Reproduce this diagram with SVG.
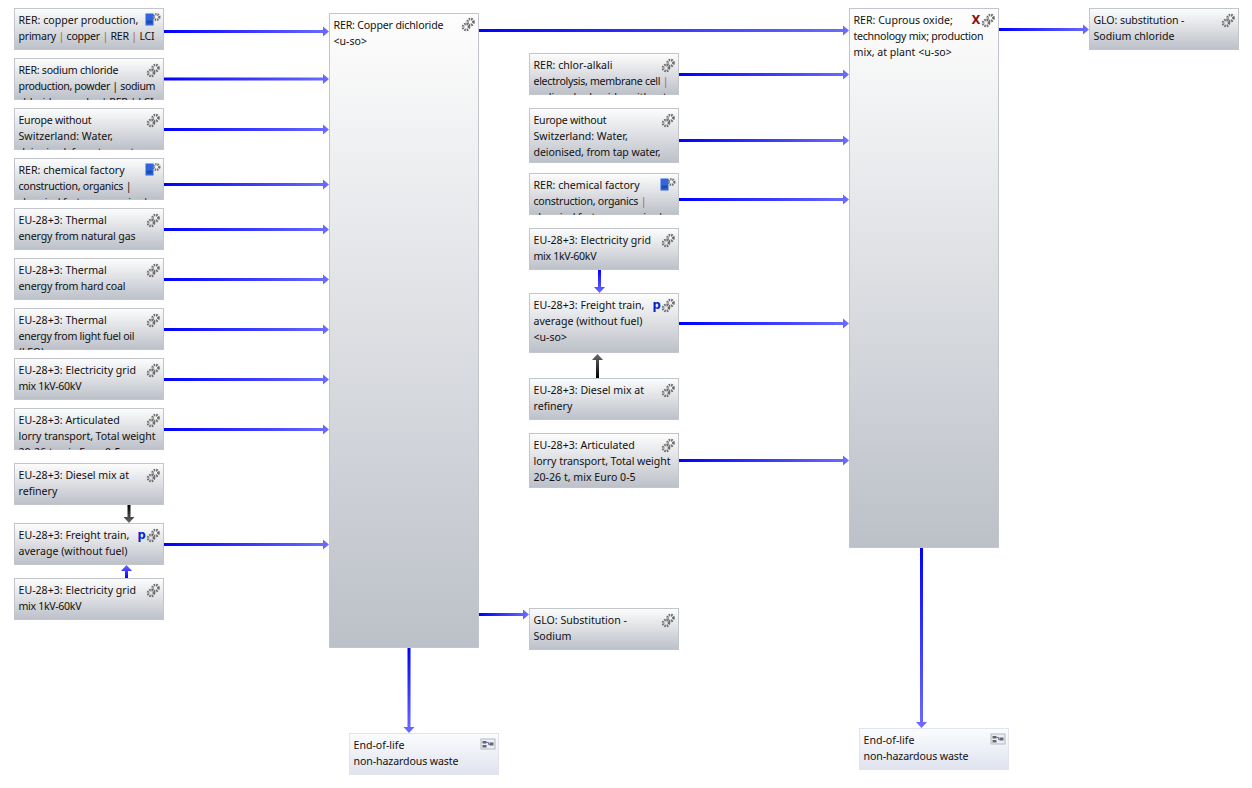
<svg xmlns="http://www.w3.org/2000/svg" width="1252" height="788" viewBox="0 0 1252 788">
<style>
text{font-family:"Noto Sans","DejaVu Sans",sans-serif;font-size:10.6px;fill:#111}
.n{fill:url(#nf);stroke:#c2c5cc;stroke-width:1}
.e{fill:url(#ef);stroke:#e2e3ec;stroke-width:1}
.o{fill:#a8692c}
.h{fill:url(#gh)}
.d{fill:url(#gd)}
.u{fill:url(#gu)}
.kd{fill:url(#kd)}
.ku{fill:url(#ku)}
.p{font-family:"DejaVu Sans",sans-serif;font-weight:bold;font-size:11.500px;fill:#0a1fd0}
.x{font-family:"DejaVu Sans",sans-serif;font-weight:bold;font-size:11.500px;fill:#8a1010}
</style>
<defs>
<linearGradient id="nf" x1="0" y1="0" x2="0" y2="1"><stop offset="0" stop-color="#fdfdfd"/><stop offset="1" stop-color="#bcc0c8"/></linearGradient>
<linearGradient id="ef" x1="0" y1="0" x2="0" y2="1"><stop offset="0" stop-color="#fbfcfe"/><stop offset="1" stop-color="#dfe3ee"/></linearGradient>
<linearGradient id="gh" x1="0" y1="0" x2="1" y2="0"><stop offset="0" stop-color="#0000ff"/><stop offset="1" stop-color="#6c6cff"/></linearGradient>
<linearGradient id="gd" x1="0" y1="0" x2="0" y2="1"><stop offset="0" stop-color="#0000ff"/><stop offset="1" stop-color="#6c6cff"/></linearGradient>
<linearGradient id="gu" x1="0" y1="1" x2="0" y2="0"><stop offset="0" stop-color="#0000ff"/><stop offset="1" stop-color="#6c6cff"/></linearGradient>
<linearGradient id="kd" x1="0" y1="0" x2="0" y2="1"><stop offset="0" stop-color="#000"/><stop offset="1" stop-color="#6a6a6a"/></linearGradient>
<linearGradient id="ku" x1="0" y1="1" x2="0" y2="0"><stop offset="0" stop-color="#000"/><stop offset="1" stop-color="#6a6a6a"/></linearGradient>
<clipPath id="c42"><rect x="0" y="0" width="150" height="41.500"/></clipPath>
<g id="gear" fill="none" stroke="#6e6e6e">
<circle cx="9" cy="4.500" r="3" stroke-width="2.600" stroke-dasharray="1.500 0.900"/>
<circle cx="4.500" cy="9.500" r="3" stroke-width="2.600" stroke-dasharray="1.500 0.900"/>
</g>
<g id="lib"><rect x="0" y="0" width="8" height="12" fill="#2f66e0"/><rect x="1" y="7" width="6" height="3" fill="#1f4aa8"/><circle cx="11" cy="3.500" r="2.800" fill="none" stroke="#6e6e6e" stroke-width="2.400" stroke-dasharray="1.400 0.900"/></g>
<g id="plan"><rect x="0.500" y="0.500" width="14" height="10" fill="#eceef2" stroke="#b5b8c0"/><rect x="2" y="2.500" width="4" height="2.500" fill="#666"/><rect x="2" y="6.500" width="4" height="2.500" fill="#666"/><rect x="9" y="4" width="4" height="3" fill="#666"/><path d="M6 4H8V6H9" fill="none" stroke="#5a6bd0"/></g>
</defs>

<g id="connectors">
<path class="h" d="M164 30H323V26.500L329 31.500L323 36.500V33H164Z"/>
<path class="h" d="M164 77.500H323V74L329 79L323 84V80.500H164Z"/>
<path class="h" d="M164 128H323V124.500L329 129.500L323 134.500V131H164Z"/>
<path class="h" d="M164 183H323V179.500L329 184.500L323 189.500V186H164Z"/>
<path class="h" d="M164 228H323V224.500L329 229.500L323 234.500V231H164Z"/>
<path class="h" d="M164 278H323V274.500L329 279.500L323 284.500V281H164Z"/>
<path class="h" d="M164 328H323V324.500L329 329.500L323 334.500V331H164Z"/>
<path class="h" d="M164 378H323V374.500L329 379.500L323 384.500V381H164Z"/>
<path class="h" d="M164 428H323V424.500L329 429.500L323 434.500V431H164Z"/>
<path class="h" d="M164 543H323V539.500L329 544.500L323 549.500V546H164Z"/>
<path class="kd" d="M127.500 505H130.500V517H134.500L129 523L123.500 517H127.500Z"/>
<path class="u" d="M125 578H128V571H132L126.500 565L121 571H125Z"/>
<path class="h" d="M479 29H843V25.500L849 30.500L843 35.500V32H479Z"/>
<path class="h" d="M679 73H843V69.500L849 74.500L843 79.500V76H679Z"/>
<path class="h" d="M679 139H843V135.500L849 140.500L843 145.500V142H679Z"/>
<path class="h" d="M679 198H843V194.500L849 199.500L843 204.500V201H679Z"/>
<path class="h" d="M679 322H843V318.500L849 323.500L843 328.500V325H679Z"/>
<path class="h" d="M679 459H843V455.500L849 460.500L843 465.500V462H679Z"/>
<path class="d" d="M598 270H601V287H605L599.500 293L594 287H598Z"/>
<path class="ku" d="M596 378H599V360H603L597.500 354L592 360H596Z"/>
<path class="h" d="M479 613H523V609.500L529 614.500L523 619.500V616H479Z"/>
<path class="h" d="M999 28H1083V24.500L1089 29.500L1083 34.500V31H999Z"/>
<path class="d" d="M407.500 648H410.500V727H414.500L409 733L403.500 727H407.500Z"/>
<path class="d" d="M920 548H923V722H927L921.500 728L916 722H920Z"/>
</g>

<g id="n1" transform="translate(14.500 8.500)"><rect class="n" width="149" height="41"/><use href="#lib" x="131" y="5"/><text x="4" y="15.500">RER: copper production,</text><text x="4" y="31.500" textLength="136">primary <tspan class="o">|</tspan> copper <tspan class="o">|</tspan> RER <tspan class="o">|</tspan> LCI</text></g>
<g id="n2" transform="translate(14.500 58.500)"><rect class="n" width="149" height="41"/><use href="#gear" x="132" y="5"/><g clip-path="url(#c42)"><text x="4" y="15.500" textLength="100">RER: sodium chloride</text><text x="4" y="31.500" textLength="137">production, powder | sodium</text><text x="4" y="47.500" textLength="135">chloride, powder | RER | LCI</text></g></g>
<g id="n3" transform="translate(14.500 108.500)"><rect class="n" width="149" height="41"/><use href="#gear" x="132" y="5"/><g clip-path="url(#c42)"><text x="4" y="15.500" textLength="73">Europe without</text><text x="4" y="31.500">Switzerland: Water,</text><text x="4" y="47.500" textLength="127">deionised, from tap water,</text></g></g>
<g id="n4" transform="translate(14.500 158.500)"><rect class="n" width="149" height="41"/><use href="#lib" x="131" y="5"/><g clip-path="url(#c42)"><text x="4" y="15.500">RER: chemical factory</text><text x="4" y="31.500" textLength="113">construction, organics |</text><text x="4" y="47.500" textLength="130">chemical factory, organics |</text></g></g>
<g id="n5" transform="translate(14.500 208.500)"><rect class="n" width="149" height="41"/><use href="#gear" x="132" y="5"/><text x="4" y="15.500">EU-28+3: Thermal</text><text x="4" y="31.500" textLength="117">energy from natural gas</text></g>
<g id="n6" transform="translate(14.500 258.500)"><rect class="n" width="149" height="41"/><use href="#gear" x="132" y="5"/><text x="4" y="15.500">EU-28+3: Thermal</text><text x="4" y="31.500" textLength="107">energy from hard coal</text></g>
<g id="n7" transform="translate(14.500 308.500)"><rect class="n" width="149" height="41"/><use href="#gear" x="132" y="5"/><g clip-path="url(#c42)"><text x="4" y="15.500">EU-28+3: Thermal</text><text x="4" y="31.500" textLength="116">energy from light fuel oil</text><text x="4" y="47.500">(LFO)</text></g></g>
<g id="n8" transform="translate(14.500 358.500)"><rect class="n" width="149" height="41"/><use href="#gear" x="132" y="5"/><text x="4" y="15.500">EU-28+3: Electricity grid</text><text x="4" y="31.500" textLength="63">mix 1kV-60kV</text></g>
<g id="n9" transform="translate(14.500 408.500)"><rect class="n" width="149" height="41"/><use href="#gear" x="132" y="5"/><g clip-path="url(#c42)"><text x="4" y="15.500">EU-28+3: Articulated</text><text x="4" y="31.500" textLength="137">lorry transport, Total weight</text><text x="4" y="47.500">20-26 t, mix Euro 0-5</text></g></g>
<g id="n10" transform="translate(14.500 463.500)"><rect class="n" width="149" height="41"/><use href="#gear" x="132" y="5"/><text x="4" y="15.500">EU-28+3: Diesel mix at</text><text x="4" y="31.500">refinery</text></g>
<g id="n11" transform="translate(14.500 523.500)"><rect class="n" width="149" height="41"/><use href="#gear" x="132" y="5"/><text class="p" x="123" y="15.500">p</text><text x="4" y="15.500">EU-28+3: Freight train,</text><text x="4" y="31.500">average (without fuel)</text></g>
<g id="n12" transform="translate(14.500 578.500)"><rect class="n" width="149" height="41"/><use href="#gear" x="132" y="5"/><text x="4" y="15.500">EU-28+3: Electricity grid</text><text x="4" y="31.500" textLength="63">mix 1kV-60kV</text></g>

<g id="copper" transform="translate(329.500 13.500)"><rect class="n" width="149" height="634"/><use href="#gear" x="132" y="4"/><text x="4" y="15.500" textLength="110">RER: Copper dichloride</text><text x="4" y="31.500">&lt;u-so&gt;</text></g>

<g id="m1" transform="translate(529.500 53.500)"><rect class="n" width="149" height="41"/><use href="#gear" x="132" y="5"/><g clip-path="url(#c42)"><text x="4" y="15.500">RER: chlor-alkali</text><text x="4" y="31.500" textLength="135">electrolysis, membrane cell <tspan class="o">|</tspan></text><text x="4" y="47.500">sodium hydroxide, without</text></g></g>
<g id="m2" transform="translate(529.500 108.500)"><rect class="n" width="149" height="54"/><use href="#gear" x="132" y="5"/><text x="4" y="15.500" textLength="73">Europe without</text><text x="4" y="31.500">Switzerland: Water,</text><text x="4" y="47.500" textLength="127">deionised, from tap water,</text></g>
<g id="m3" transform="translate(529.500 173.500)"><rect class="n" width="149" height="41"/><use href="#lib" x="131" y="5"/><g clip-path="url(#c42)"><text x="4" y="15.500">RER: chemical factory</text><text x="4" y="31.500" textLength="113">construction, organics <tspan class="o">|</tspan></text><text x="4" y="47.500" textLength="130">chemical factory, organics |</text></g></g>
<g id="m4" transform="translate(529.500 228.500)"><rect class="n" width="149" height="41"/><use href="#gear" x="132" y="5"/><text x="4" y="15.500">EU-28+3: Electricity grid</text><text x="4" y="31.500" textLength="63">mix 1kV-60kV</text></g>
<g id="m5" transform="translate(529.500 293.500)"><rect class="n" width="149" height="59"/><use href="#gear" x="132" y="5"/><text class="p" x="123" y="15.500">p</text><text x="4" y="15.500">EU-28+3: Freight train,</text><text x="4" y="31.500">average (without fuel)</text><text x="4" y="47.500">&lt;u-so&gt;</text></g>
<g id="m6" transform="translate(529.500 378.500)"><rect class="n" width="149" height="41"/><use href="#gear" x="132" y="5"/><text x="4" y="15.500">EU-28+3: Diesel mix at</text><text x="4" y="31.500">refinery</text></g>
<g id="m7" transform="translate(529.500 433.500)"><rect class="n" width="149" height="54"/><use href="#gear" x="132" y="5"/><text x="4" y="15.500">EU-28+3: Articulated</text><text x="4" y="31.500" textLength="137">lorry transport, Total weight</text><text x="4" y="47.500">20-26 t, mix Euro 0-5</text></g>
<g id="m8" transform="translate(529.500 608.500)"><rect class="n" width="149" height="41"/><use href="#gear" x="132" y="5"/><text x="4" y="15.500">GLO: Substitution -</text><text x="4" y="31.500">Sodium</text></g>

<g id="cuprous" transform="translate(849.500 8.500)"><rect class="n" width="149" height="539"/><use href="#gear" x="132" y="5"/><text class="x" x="122" y="15.500">X</text><text x="4" y="15.500">RER: Cuprous oxide;</text><text x="4" y="31.500" textLength="130">technology mix; production</text><text x="4" y="47.500">mix, at plant &lt;u-so&gt;</text></g>
<g id="glo" transform="translate(1089.500 8.500)"><rect class="n" width="149" height="41"/><use href="#gear" x="132" y="5"/><text x="4" y="15.500" textLength="91">GLO: substitution -</text><text x="4" y="31.500">Sodium chloride</text></g>
<g id="eol1" transform="translate(349.500 733.500)"><rect class="e" width="149" height="41"/><use href="#plan" x="131" y="5"/><text x="4" y="15.500">End-of-life</text><text x="4" y="31.500" textLength="105">non-hazardous waste</text></g>
<g id="eol2" transform="translate(859.500 728.500)"><rect class="e" width="149" height="41"/><use href="#plan" x="131" y="5"/><text x="4" y="15.500">End-of-life</text><text x="4" y="31.500" textLength="105">non-hazardous waste</text></g>
</svg>
